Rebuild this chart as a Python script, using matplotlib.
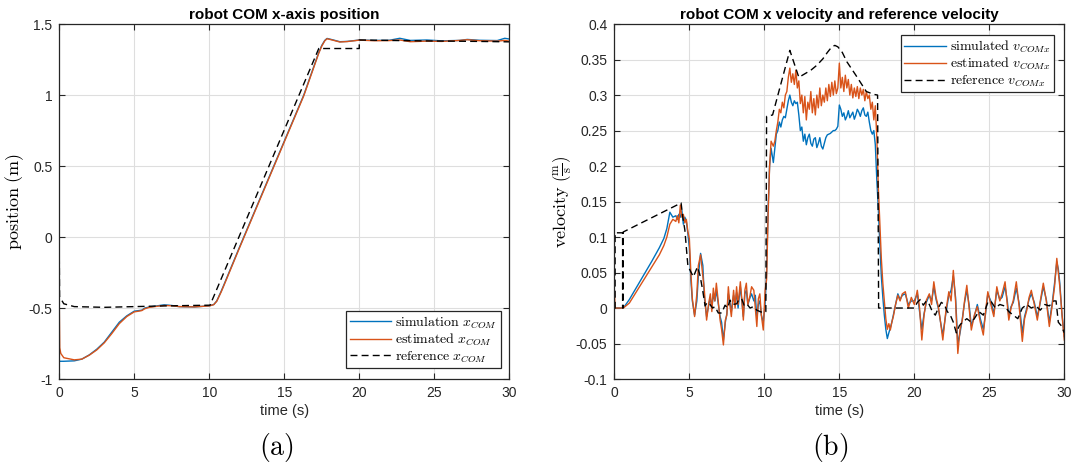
import numpy as np
import matplotlib.pyplot as plt
from matplotlib.ticker import FuncFormatter

plt.rcParams['mathtext.fontset'] = 'cm'
plt.rcParams['axes.unicode_minus'] = False
plt.rcParams['font.family'] = ['Liberation Sans', 'DejaVu Sans']

c_sim = '#0072BD'
c_est = '#D95319'

# ---- position data (m) ----
t_pos = [0, 0.03, 0.1, 0.3, 1.0, 1.5, 2.0, 2.5, 3.0, 3.5, 4.0, 4.5, 5.0, 5.3, 5.5, 5.7,
         6.0, 6.5, 7.0, 7.5, 8.0, 9.0, 10.0, 10.3, 10.5, 10.8, 11.0, 12.0, 13.0, 14.0,
         15.0, 16.3, 17.3, 17.5, 17.7, 17.85, 18.2, 18.7, 19.2, 20.0, 21.0, 22.0, 22.7,
         23.4, 24.5, 25.5, 26.7, 27.2, 28.0, 29.2, 29.7, 30.0]
x_sim = [-0.875, -0.875, -0.875, -0.875, -0.872, -0.86, -0.83, -0.79, -0.74, -0.67, -0.6, -0.555, -0.522, -0.518, -0.515, -0.5,
         -0.493, -0.485, -0.477, -0.482, -0.49, -0.492, -0.485, -0.475, -0.45, -0.38, -0.33, -0.075, 0.175, 0.425,
         0.675, 1.0, 1.3, 1.35, 1.385, 1.399, 1.39, 1.376, 1.378, 1.388, 1.385, 1.386, 1.4,
         1.385, 1.388, 1.382, 1.385, 1.392, 1.386, 1.384, 1.4, 1.395]
x_est = [-0.48, -0.78, -0.82, -0.85, -0.865, -0.86, -0.832, -0.795, -0.745, -0.68, -0.61, -0.56, -0.527, -0.522, -0.518, -0.505,
         -0.495, -0.488, -0.482, -0.484, -0.49, -0.492, -0.485, -0.476, -0.452, -0.385, -0.335, -0.08, 0.17, 0.42,
         0.67, 0.995, 1.295, 1.345, 1.382, 1.397, 1.388, 1.374, 1.377, 1.387, 1.383, 1.384, 1.388,
         1.376, 1.38, 1.378, 1.385, 1.39, 1.383, 1.38, 1.385, 1.38]
t_pos_ref = [0, 0.02, 0.3, 1.0, 3.0, 5.0, 7.0, 10.05, 17.3, 20.0, 20.0, 22.0, 24.0, 26.0, 28.0, 30.0]
x_ref = [-0.14, -0.42, -0.47, -0.49, -0.495, -0.49, -0.485, -0.48, 1.328, 1.328, 1.388, 1.385, 1.382, 1.38, 1.378, 1.375]

# ---- velocity data (m/s), sampled in four stretches ----
t_a = [0, 0.05, 0.6, 1.0, 1.5, 2.0, 2.5, 3.0, 3.3, 3.5, 3.7, 3.9, 4.1, 4.2, 4.3, 4.4, 4.5, 4.6, 4.7, 4.8, 4.9]
v_sim_a = [0, 0, 0, 0.012, 0.03, 0.048, 0.066, 0.085, 0.098, 0.112, 0.135, 0.128, 0.13, 0.125, 0.132, 0.128, 0.138, 0.118, 0.128, 0.122, 0.105]
v_est_a = [0.025, 0, 0, 0.007, 0.024, 0.041, 0.058, 0.075, 0.088, 0.1, 0.118, 0.125, 0.122, 0.13, 0.12, 0.145, 0.128, 0.132, 0.12, 0.125, 0.108]

t_b = [5.0, 5.1, 5.2, 5.35, 5.5, 5.6, 5.75, 5.9, 6.0, 6.15, 6.3, 6.4, 6.5, 6.6, 6.7,
       6.8, 6.9, 7.05, 7.15, 7.27, 7.4, 7.5, 7.6, 7.7, 7.8, 7.95, 8.05, 8.15, 8.25, 8.4,
       8.5, 8.6, 8.7, 8.8, 8.9, 9.05, 9.15, 9.3, 9.4, 9.5, 9.6, 9.7, 9.8, 9.93, 10.05]
v_sim_b = [0.085, 0.04, 0.01, -0.01, 0.01, 0.045, 0.077, 0.06, 0.015, -0.012, 0.005, 0.015, 0.0, 0.02, 0.01,
           0.025, 0.01, -0.012, -0.02, -0.045, -0.02, -0.008, 0.02, 0.01, -0.005, 0.018, 0.005, 0.022, 0.0, 0.03,
           0.01, -0.012, 0.02, 0.025, 0.005, 0.015, 0.02, 0.01, 0.018, -0.015, 0.005, 0.01, -0.01, -0.02, 0.005]
v_est_b = [0.098, 0.05, 0.013, -0.012, 0.02, 0.06, 0.075, 0.045, 0.025, -0.017, 0.008, 0.02, -0.005, 0.028, 0.01,
           0.035, 0.015, -0.017, -0.03, -0.052, -0.017, -0.01, 0.03, 0.005, -0.012, 0.025, 0.0, 0.03, 0.005, 0.037,
           0.012, -0.017, 0.025, 0.035, 0.005, 0.018, 0.03, 0.025, 0.0, -0.026, 0.013, 0.02, -0.01, -0.031, 0.025]

t_c = [10.15, 10.25, 10.35, 10.45,
       10.6, 10.7, 10.8, 10.9, 11.0, 11.1, 11.2, 11.3, 11.4, 11.5,
       11.6, 11.7, 11.8, 11.9, 12.0, 12.1, 12.2, 12.3, 12.4, 12.5,
       12.6, 12.7, 12.8, 12.9, 13.0, 13.1, 13.2, 13.3, 13.4, 13.5,
       13.6, 13.7, 13.8, 13.9, 14.0, 14.1, 14.2, 14.3, 14.4, 14.5,
       14.6, 14.7, 14.8, 14.9, 15.0, 15.1, 15.2, 15.3, 15.4, 15.5,
       15.6, 15.7, 15.8, 15.9, 16.0, 16.1, 16.2, 16.3, 16.4, 16.5,
       16.6, 16.7, 16.8, 16.9, 17.0, 17.1, 17.2, 17.3, 17.4, 17.5]
v_sim_c = [0.05, 0.14, 0.2, 0.225,
           0.205, 0.225, 0.245, 0.25, 0.262, 0.255, 0.265, 0.27, 0.268, 0.28,
           0.292, 0.3, 0.29, 0.285, 0.292, 0.288, 0.29, 0.272, 0.25, 0.255,
           0.235, 0.245, 0.23, 0.24, 0.245, 0.232, 0.228, 0.238, 0.24, 0.226,
           0.232, 0.24, 0.228, 0.224, 0.232, 0.24, 0.244, 0.245, 0.246, 0.248,
           0.25, 0.25, 0.252, 0.256, 0.286, 0.28, 0.27, 0.275, 0.265, 0.27,
           0.278, 0.268, 0.272, 0.276, 0.266, 0.272, 0.28, 0.276, 0.27, 0.278,
           0.282, 0.272, 0.27, 0.276, 0.262, 0.25, 0.245, 0.25, 0.23, 0.18]
v_est_c = [0.04, 0.13, 0.2, 0.235,
           0.228, 0.235, 0.25, 0.262, 0.28, 0.275, 0.29, 0.282, 0.3, 0.305,
           0.325, 0.338, 0.318, 0.33, 0.315, 0.335, 0.31, 0.32, 0.288, 0.3,
           0.275, 0.298, 0.265, 0.29, 0.28, 0.305, 0.275, 0.295, 0.272, 0.3,
           0.282, 0.31, 0.285, 0.3, 0.29, 0.31, 0.292, 0.315, 0.298, 0.318,
           0.3, 0.32, 0.302, 0.31, 0.345, 0.31, 0.325, 0.305, 0.328, 0.31,
           0.322, 0.3, 0.315, 0.296, 0.31, 0.298, 0.312, 0.295, 0.31, 0.3,
           0.308, 0.292, 0.305, 0.295, 0.3, 0.28, 0.29, 0.265, 0.285, 0.24]

t_d = [17.6, 17.7, 17.8, 17.9, 18.0, 18.1, 18.2, 18.3, 18.4, 18.5,
       18.6, 18.75, 18.9, 19.05, 19.2, 19.4, 19.6, 19.8, 20.0, 20.2,
       20.35, 20.5, 20.65, 20.8, 21.0, 21.15, 21.3, 21.45, 21.6, 21.75,
       21.9, 22.1, 22.3, 22.45, 22.6, 22.75, 22.9, 23.05, 23.2, 23.35,
       23.5, 23.65, 23.8, 24.0, 24.2, 24.4, 24.6, 24.75, 24.9, 25.1,
       25.3, 25.5, 25.7, 25.85, 26.05, 26.2, 26.3, 26.45, 26.6, 26.8,
       27.0, 27.2, 27.35, 27.5, 27.65, 27.8, 28.0, 28.2, 28.4, 28.6,
       28.8, 29.0, 29.2, 29.35, 29.5, 29.6, 29.7, 29.85, 30.0]
v_sim_d = [0.14, 0.09, 0.045, 0.015, -0.01, -0.03, -0.043, -0.035, -0.028, -0.02,
           -0.01, 0.005, 0.02, 0.012, 0.018, 0.02, 0.005, 0.01, 0.01, 0.02,
           -0.005, -0.03, -0.008, 0.008, 0.018, 0.01, 0.03, 0.012, 0.0, -0.02,
           -0.038, -0.008, 0.018, 0.025, 0.045, 0.015, -0.05, -0.035, -0.015, 0.008,
           0.025, 0.005, -0.025, -0.012, 0.005, -0.015, -0.03, -0.008, 0.02, 0.01,
           -0.008, 0.025, 0.012, 0.015, 0.03, 0.01, -0.012, 0.002, 0.008, 0.028,
           0.005, -0.035, -0.012, 0.0, 0.012, 0.02, 0.008, -0.012, 0.008, 0.03,
           0.012, -0.02, 0.008, 0.035, 0.065, 0.055, 0.035, -0.01, -0.04]
v_est_d = [0.17, 0.12, 0.07, 0.035, 0.01, -0.015, -0.03, -0.022, -0.031, -0.02,
           -0.012, 0.005, 0.018, 0.01, 0.02, 0.023, 0.0, 0.015, 0.005, 0.025,
           0.0, -0.045, -0.01, 0.011, 0.02, 0.005, 0.037, 0.015, 0.002, -0.02,
           -0.045, -0.005, 0.023, 0.01, 0.053, 0.01, -0.064, -0.03, -0.017, 0.01,
           0.032, 0.0, -0.031, -0.01, 0.002, -0.02, -0.038, -0.005, 0.023, 0.005,
           -0.012, 0.03, 0.01, 0.02, 0.037, 0.005, -0.017, 0.0, 0.011, 0.037,
           0.0, -0.047, -0.015, -0.003, 0.015, 0.025, 0.005, -0.017, 0.01, 0.035,
           0.01, -0.026, 0.005, 0.03, 0.07, 0.05, 0.03, -0.01, -0.045]

t_vref = [0, 0.05, 0.05, 0.55, 0.55, 0.58, 0.58, 4.45, 4.55, 4.7, 4.9, 5.05, 5.27, 5.54, 5.71, 5.89,
          6.05, 6.2, 6.38, 6.55, 6.71, 6.93, 7.16, 7.38, 7.55, 7.71, 7.9, 8.16, 8.3, 8.49, 8.65,
          8.82, 9.05, 9.27, 9.5, 9.71, 9.98, 10.1, 10.15, 10.55, 11.7, 12.3, 12.7, 13.1, 13.5,
          13.9, 14.2, 14.5, 14.7, 14.9, 15.2, 15.5, 16.1, 16.8, 17.3, 17.55, 17.62, 20.0,
          20.2, 20.4, 20.6, 20.8, 21.0, 21.2, 21.4, 21.6, 21.8, 22.0, 22.2, 22.4, 22.6, 22.8,
          23.0, 23.2, 23.5, 23.8, 24.0, 24.3, 24.6, 24.9, 25.1, 25.4, 25.7, 26.0, 26.3, 26.6,
          26.9, 27.2, 27.5, 27.8, 28.1, 28.4, 28.7, 29.0, 29.3, 29.45, 29.6, 29.8, 30.0]
v_ref = [0, 0, 0.106, 0.106, 0, 0, 0.107, 0.148, 0.13, 0.11, 0.06, 0.053, 0.044, 0.058, 0.046, 0.025,
         0.003, 0.008, 0.005, 0.0, 0.002, -0.007, -0.007, 0.004, 0.0, 0.011, 0.005, 0.006, 0.012, 0.013, 0.004,
         0.006, 0.0, 0.002, -0.003, -0.005, -0.007, -0.005, 0.27, 0.272, 0.363, 0.325, 0.33, 0.335, 0.342,
         0.351, 0.36, 0.368, 0.37, 0.368, 0.36, 0.347, 0.328, 0.305, 0.301, 0.3, 0.0, 0.0,
         0.008, 0.012, 0.004, 0.01, 0.005, -0.005, -0.01, 0.0, 0.008, 0.005, -0.005, -0.01, -0.02, -0.035,
         -0.025, -0.02, -0.015, -0.02, -0.015, -0.005, -0.01, 0.008, 0.01, 0.0, 0.005, 0.003, -0.005, -0.01,
         -0.015, 0.0, 0.005, 0.0, 0.003, -0.003, 0.005, 0.003, 0.01, 0.01, -0.02, -0.025, -0.035]

t_vel = t_a + t_b + t_c + t_d
v_sim = v_sim_a + v_sim_b + v_sim_c + v_sim_d
v_est = v_est_a + v_est_b + v_est_c + v_est_d


def style(ax):
    ax.set_xlim(0, 30)
    ax.set_xticks(np.arange(0, 31, 5))
    ax.grid(True, color='#dedede', lw=0.8)
    ax.set_axisbelow(True)
    ax.tick_params(direction='in', top=True, right=True, length=4, labelsize=10,
                   colors='#262626', pad=5)
    ax.yaxis.set_major_formatter(FuncFormatter(lambda v, p: '%g' % round(v, 3)))
    for s in ax.spines.values():
        s.set_color('#262626')
        s.set_linewidth(0.9)
    ax.set_xlabel('time (s)', fontsize=10.5, color='#262626', labelpad=3)


def legend(ax, **kw):
    leg = ax.legend(borderaxespad=0, fontsize=10, fancybox=False, framealpha=1,
                    edgecolor='#262626', handlelength=3.0, labelspacing=0.08,
                    borderpad=0.25, handletextpad=0.3, **kw)
    leg.get_frame().set_linewidth(0.9)


fig = plt.figure(figsize=(10.78, 4.67), dpi=100)
ax1 = fig.add_axes([0.055, 0.1884, 0.4174, 0.760])
ax2 = fig.add_axes([0.5699, 0.1884, 0.4174, 0.760])

ax1.plot(t_pos, x_sim, color=c_sim, lw=1.0, label=r'$\mathrm{simulation}\ x_{COM}$')
ax1.plot(t_pos, x_est, color=c_est, lw=1.0, label=r'$\mathrm{estimated}\ x_{COM}$')
ax1.plot(t_pos_ref, x_ref, color='k', lw=1.0, dashes=(5, 3), label=r'$\mathrm{reference}\ x_{COM}$')
style(ax1)
ax1.set_ylim(-1, 1.5)
ax1.set_yticks(np.arange(-1, 1.51, 0.5))
ax1.set_title('robot COM x-axis position', fontsize=11, fontweight='bold', pad=4)
ax1.set_ylabel(r'$\mathrm{position\ (m)}$', fontsize=13, labelpad=2)
legend(ax1, loc='lower right', bbox_to_anchor=(0.981, 0.031))

ax2.plot(t_vel, v_sim, color=c_sim, lw=1.0, label=r'$\mathrm{simulated}\ v_{COMx}$')
ax2.plot(t_vel, v_est, color=c_est, lw=1.0, label=r'$\mathrm{estimated}\ v_{COMx}$')
ax2.plot(t_vref, v_ref, color='k', lw=1.0, dashes=(5, 3), label=r'$\mathrm{reference}\ v_{COMx}$')
style(ax2)
ax2.set_ylim(-0.1, 0.4)
ax2.set_yticks(np.arange(-0.1, 0.401, 0.05))
ax2.set_title('robot COM x velocity and reference velocity', fontsize=11, fontweight='bold', pad=4)
ax2.set_ylabel(r'$\mathrm{velocity}\ \left(\frac{\mathrm{m}}{\mathrm{s}}\right)$', fontsize=13, labelpad=2)
legend(ax2, loc='upper right', bbox_to_anchor=(0.977, 0.969))

fig.text(276 / 1078, 1 - 447 / 467, r'$\mathrm{(a)}$', fontsize=20, ha='center', va='center')
fig.text(830 / 1078, 1 - 447 / 467, r'$\mathrm{(b)}$', fontsize=20, ha='center', va='center')

fig.savefig('out.png', dpi=100)
